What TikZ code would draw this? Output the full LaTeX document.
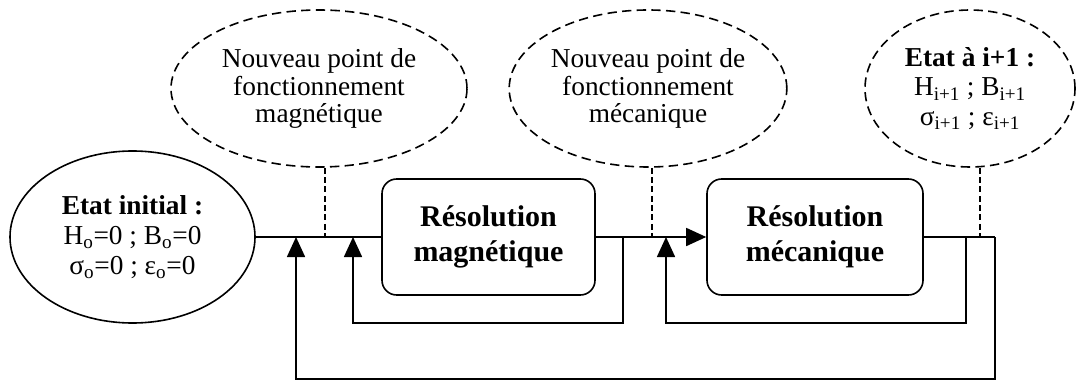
\documentclass[tikz,border=0pt]{standalone}
\usepackage{fontspec}
\setmainfont{Liberation Serif}
\usetikzlibrary{arrows.meta,shapes.geometric}

\begin{document}
\begin{tikzpicture}[x=0.75pt,y=0.75pt,yscale=-1,xscale=1,
  line width=1.2pt,
  txt/.style={align=center,inner sep=0.75pt,font=\fontsize{20.5}{20.5}\selectfont},
  etat/.style={txt,draw,ellipse,font=\fontsize{20.5}{22.5}\selectfont},
  point/.style={txt,draw,ellipse,dash pattern=on 7pt off 4pt},
  bloc/.style={draw,rounded corners=11pt,align=center,font=\fontsize{22.5}{26}\selectfont\bfseries},
  fleche/.style={-{Triangle[length=15pt,width=13.5pt]}},
  pointille/.style={dash pattern=on 4.5pt off 2.5pt}]
\useasboundingbox (0,0) rectangle (1077,381);

%Shape: Ellipse
\node (ini) [etat,minimum width=183.75pt,minimum height=129pt] at (132.5,237) {\textbf{Etat initial :}\\H\textsubscript{o}=0 ; B\textsubscript{o}=0\\σ\textsubscript{o}=0 ; ε\textsubscript{o}=0};
%Shape: Ellipse
\node (nmag) [point,minimum width=222pt,minimum height=117.75pt] at (319,88.5) {Nouveau point de\\fonctionnement\\magnétique};
%Shape: Ellipse
\node (nmec) [point,minimum width=206.25pt,minimum height=117.75pt] at (648,88.5) {Nouveau point de\\fonctionnement\\mécanique};
%Shape: Ellipse
\node (fin) [point,font=\fontsize{20.5}{22}\selectfont,minimum width=157.5pt,minimum height=117.75pt] at (970,88.5) {\textbf{Etat à i+1 :}\\H\textsubscript{i+1} ; B\textsubscript{i+1}\\σ\textsubscript{i+1} ; ε\textsubscript{i+1}};

%Rounded Rect
\node (mag) [bloc,minimum width=159.75pt,minimum height=87pt] at (488.5,237) {Résolution\\magnétique};
%Rounded Rect
\node (mec) [bloc,minimum width=162pt,minimum height=87pt] at (815,237) {Résolution\\mécanique};

% junctions on the main line
\coordinate (a1) at (296,237);
\coordinate (d1) at (325,237);
\coordinate (a2) at (353,237);
\coordinate (b1) at (623,237);
\coordinate (d2) at (652,237);
\coordinate (a3) at (666,237);
\coordinate (b2) at (966,237);
\coordinate (d3) at (980,237);
\coordinate (e) at (995,237);

%Straight Lines
\draw (ini.east) -- (mag.west);
\draw [fleche] (mag.east) -- (mec.west);
\draw (mec.east) -- (e);
%Feedback loops
\draw [fleche] (e) -- ++(0,142) -| (a1);
\draw [fleche] (b1) -- ++(0,86) -| (a2);
\draw [fleche] (b2) -- ++(0,86) -| (a3);
%Dashed Lines
\draw [pointille] (d1 |- nmag.south) -- (d1);
\draw [pointille] (d2 |- nmec.south) -- (d2);
\draw [pointille] (d3 |- fin.south) -- (d3);

\end{tikzpicture}
\end{document}
